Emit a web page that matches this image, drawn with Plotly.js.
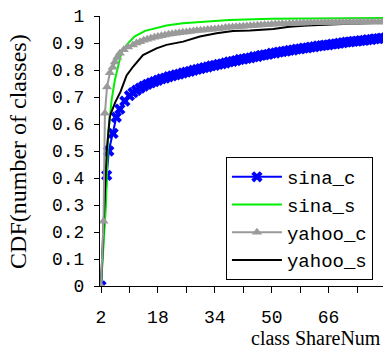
<!DOCTYPE html>
<html>
<head>
<meta charset="utf-8">
<script src="https://cdn.plot.ly/plotly-3.0.1.min.js"></script>
<style>html,body{margin:0;padding:0;background:#fff;}#chart{width:383px;height:353px;}</style>
</head>
<body>
<div id="chart"></div>
<script>
// ---- data ----
const seriesNames = ["sina_c", "sina_s", "yahoo_c", "yahoo_s"];

const sinaC_x = [2, 3.6, 4.2, 5.4, 6.3, 7.3, 8.7, 10, 11, 12, 13, 14, 15, 16, 17, 18, 19, 20, 21, 22, 23, 24, 25, 26, 27, 28, 29, 30, 31, 32, 33, 34, 35, 36, 37, 38, 39, 40, 41, 42, 43, 44, 45, 46, 47, 48, 49, 50, 51, 52, 53, 54, 55, 56, 57, 58, 59, 60, 61, 62, 63, 64, 65, 66, 67, 68, 69, 70, 71, 72, 73, 74, 75, 76, 77, 78, 79, 80, 81, 82];
const sinaC_y = [0, 0.41, 0.50, 0.565, 0.625, 0.655, 0.685, 0.705, 0.716, 0.725, 0.733, 0.740, 0.747, 0.752, 0.757, 0.762, 0.767, 0.770, 0.775, 0.778, 0.782, 0.785, 0.789, 0.792, 0.795, 0.799, 0.802, 0.805, 0.809, 0.811, 0.815, 0.817, 0.821, 0.823, 0.826, 0.830, 0.832, 0.835, 0.839, 0.840, 0.843, 0.845, 0.849, 0.850, 0.854, 0.856, 0.858, 0.862, 0.863, 0.866, 0.868, 0.870, 0.873, 0.874, 0.877, 0.878, 0.881, 0.882, 0.885, 0.886, 0.889, 0.890, 0.892, 0.893, 0.896, 0.897, 0.899, 0.901, 0.903, 0.904, 0.906, 0.907, 0.909, 0.910, 0.912, 0.913, 0.915, 0.916, 0.918, 0.919];

const sinaS_x = [2, 3.4, 4.0, 4.5, 5.0, 5.9, 6.7, 7.7, 9.2, 11.5, 14.4, 17.2, 20.4, 25, 29.8, 38, 50, 60, 70, 82];
const sinaS_y = [0, 0.30, 0.56, 0.615, 0.69, 0.763, 0.81, 0.862, 0.893, 0.925, 0.945, 0.955, 0.965, 0.973, 0.978, 0.985, 0.990, 0.991, 0.992, 0.993];

const yahooC_x = [2, 2.7, 3.1, 3.7, 4.5, 5.3, 5.9, 6.6, 7.3, 8.4, 9.6, 11, 12, 13, 14, 15, 16, 17, 18, 19, 20, 21, 22, 23, 24, 25, 26, 27, 28, 29, 30, 31, 32, 33, 34, 35, 36, 37, 38, 39, 40, 41, 42, 43, 44, 45, 46, 47, 48, 49, 50, 51, 52, 53, 54, 55, 56, 57, 58, 59, 60, 61, 62, 63, 64, 65, 66, 67, 68, 69, 70, 71, 72, 73, 74, 75, 76, 77, 78, 79, 80, 81, 82];
const yahooC_y = [0, 0.24, 0.64, 0.737, 0.79, 0.81, 0.83, 0.847, 0.862, 0.875, 0.885, 0.893, 0.900, 0.905, 0.910, 0.914, 0.918, 0.921, 0.924, 0.927, 0.930, 0.932, 0.934, 0.936, 0.938, 0.940, 0.941, 0.943, 0.944, 0.946, 0.947, 0.948, 0.950, 0.951, 0.952, 0.954, 0.955, 0.957, 0.958, 0.959, 0.960, 0.961, 0.962, 0.963, 0.964, 0.965, 0.966, 0.967, 0.968, 0.968, 0.969, 0.970, 0.970, 0.971, 0.971, 0.972, 0.972, 0.973, 0.973, 0.974, 0.974, 0.975, 0.975, 0.975, 0.975, 0.976, 0.976, 0.976, 0.976, 0.977, 0.977, 0.977, 0.977, 0.977, 0.978, 0.978, 0.978, 0.978, 0.978, 0.978, 0.978, 0.978, 0.978];

const yahooS_x = [2, 2.5, 2.6, 3.6, 4.5, 6.0, 7.5, 9.2, 11, 13.8, 17.6, 20.4, 25.1, 29.8, 34.5, 39.1, 43.9, 50.4, 55, 60, 70, 82];
const yahooS_y = [0, 0.15, 0.15, 0.50, 0.63, 0.68, 0.72, 0.780, 0.812, 0.855, 0.880, 0.893, 0.905, 0.924, 0.936, 0.944, 0.946, 0.952, 0.960, 0.965, 0.970, 0.975];

const xTickVals = [2, 10, 18, 26, 34, 42, 50, 58, 66, 74, 82];
const xTickText = ["2", "", "18", "", "34", "", "50", "", "66", "", "82"];
const yTitle = "CDF(number of classes)";
const xTitle = "class ShareNum";

// ---- chart ----
const traces = [
  {x: sinaC_x, y: sinaC_y, name: seriesNames[0], type: "scatter", mode: "lines+markers",
   line: {color: "#0000ff", width: 2}, marker: {symbol: "x", size: 10, color: "#0000ff"}, legendrank: 1},
  {x: sinaS_x, y: sinaS_y, name: seriesNames[1], type: "scatter", mode: "lines",
   line: {color: "#00ee00", width: 2}, legendrank: 2},
  {x: yahooS_x, y: yahooS_y, name: seriesNames[3], type: "scatter", mode: "lines",
   line: {color: "#000000", width: 2}, legendrank: 4},
  {x: yahooC_x, y: yahooC_y, name: seriesNames[2], type: "scatter", mode: "lines+markers",
   line: {color: "#9a9a9a", width: 2}, marker: {symbol: "triangle-up", size: 9, color: "#9a9a9a"}, legendrank: 3}
];

const layout = {
  width: 383, height: 353,
  margin: {l: 100, r: 0, t: 16, b: 67, pad: 0},
  paper_bgcolor: "#ffffff", plot_bgcolor: "#ffffff",
  showlegend: true,
  legend: {x: 0.445, y: 0.478, xanchor: "left", yanchor: "top",
    bgcolor: "#ffffff", bordercolor: "#000000", borderwidth: 1,
    font: {family: "Liberation Mono", size: 19, color: "#000"}, itemwidth: 50, tracegroupgap: 0},
  xaxis: {range: [1.72, 81.3], tickmode: "array", tickvals: xTickVals, ticktext: xTickText,
    showgrid: false, zeroline: false, showline: true, linecolor: "#000", linewidth: 1,
    ticks: "outside", ticklen: 6, tickcolor: "#000", tickwidth: 1, ticklabelstandoff: 8,
    tickfont: {family: "Liberation Mono", size: 18, color: "#000"}},
  yaxis: {range: [0, 1], dtick: 0.1, tick0: 0,
    showgrid: false, zeroline: false, showline: true, linecolor: "#000", linewidth: 1,
    ticks: "outside", ticklen: 5, tickcolor: "#000", tickwidth: 1, ticklabelstandoff: 6,
    tickfont: {family: "Liberation Mono", size: 18, color: "#000"}},
  annotations: [
    {text: yTitle, xref: "paper", yref: "paper", x: -0.29, y: 0.5, xanchor: "center", yanchor: "middle",
     textangle: -90, showarrow: false, font: {family: "Liberation Serif", size: 24, color: "#000"}},
    {text: xTitle, xref: "paper", yref: "paper", x: 1.0, y: -0.193, xanchor: "right", yanchor: "middle",
     showarrow: false, font: {family: "Liberation Serif", size: 20, color: "#000"}}
  ]
};

Plotly.newPlot("chart", traces, layout, {displayModeBar: false, staticPlot: true});
</script>
</body>
</html>
